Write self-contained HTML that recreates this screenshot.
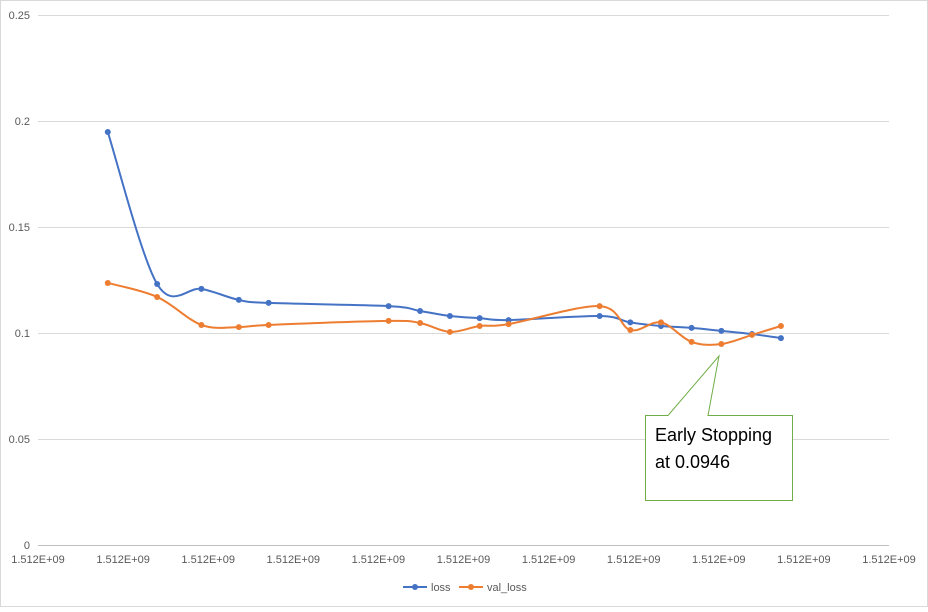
<!DOCTYPE html>
<html><head><meta charset="utf-8"><style>
body{margin:0;background:#fff;font-family:"Liberation Sans",sans-serif}
svg text{font-family:"Liberation Sans",sans-serif}
</style></head><body>
<svg id="chart" width="928" height="607" xmlns="http://www.w3.org/2000/svg">
<rect x="0.5" y="0.5" width="927" height="606" fill="#fff" stroke="#d9d9d9"/>
<g id="grid"></g><g id="series"></g>
<g>
<path d="M645.5,415.5 H668 L719,356 L708,415.5 H792.5 V500.5 H645.5 Z" fill="#fff" stroke="#70ad47" stroke-width="1"/>
<text x="655" y="441" font-size="18" fill="#000">Early Stopping</text>
<text x="655" y="468" font-size="18" fill="#000">at 0.0946</text>
</g>
<g>
<g><line x1="403" y1="587" x2="427" y2="587" stroke="#4472c4" stroke-width="2"/><circle cx="415" cy="587" r="3" fill="#4472c4"/><text x="431" y="591" font-size="11" fill="#595959">loss</text></g>
<g><line x1="459" y1="587" x2="483" y2="587" stroke="#ed7d31" stroke-width="2"/><circle cx="471" cy="587" r="3" fill="#ed7d31"/><text x="487" y="591" font-size="11" fill="#595959">val_loss</text></g>
</g>
</svg>
<script>
const xTimes=[82,140,192,236,271,412,449,484,519,553,660,696,732,768,803,839,873];
const lossValues=[0.1948,0.1231,0.1208,0.1156,0.1142,0.1127,0.1104,0.108,0.107,0.1061,0.108,0.105,0.1033,0.1024,0.101,0.0995,0.0976];
const valLossValues=[0.1236,0.117,0.1038,0.1028,0.1038,0.1057,0.1047,0.1005,0.1033,0.1042,0.1127,0.1014,0.105,0.0958,0.0948,0.0991,0.1033];
const yTicks=[0,0.05,0.1,0.15,0.2,0.25];
const yTickLabels=["0","0.05","0.1","0.15","0.2","0.25"];
const xTicks=[0,100,200,300,400,500,600,700,800,900,1000];
const xTickLabel="1.512E+09";
const NS="http://www.w3.org/2000/svg";
const X=t=>38+t*0.851, Y=v=>545-v*2120;
const grid=document.getElementById('grid'), ser=document.getElementById('series');
function mk(tag,at,p){const e=document.createElementNS(NS,tag);for(const k in at)e.setAttribute(k,at[k]);p.appendChild(e);return e;}
yTicks.forEach((v,i)=>{
 const l=mk('line',{x1:38,x2:889,y1:Y(v)+0.5,y2:Y(v)+0.5,stroke:v===0?'#bfbfbf':'#d9d9d9'},grid);
 
 
 const t=mk('text',{x:30,y:Y(v)+4,'text-anchor':'end','font-size':'11',fill:'#595959'},grid);
 t.textContent=yTickLabels[i];
 
 
});
xTicks.forEach(v=>{
 const t=mk('text',{x:X(v),y:563,'text-anchor':'middle','font-size':'11',fill:'#595959'},grid);
 t.textContent=xTickLabel;
 
 
});
function path(pts){let d=`M${pts[0][0]},${pts[0][1]}`;for(let i=0;i<pts.length-1;i++){const p0=pts[i-1]||pts[i],p1=pts[i],p2=pts[i+1],p3=pts[i+2]||p2;const k=1/6;d+=` C${p1[0]+(p2[0]-p0[0])*k},${p1[1]+(p2[1]-p0[1])*k} ${p2[0]-(p3[0]-p1[0])*k},${p2[1]-(p3[1]-p1[1])*k} ${p2[0]},${p2[1]}`;}return d;}
[[lossValues,'#4472c4','loss'],[valLossValues,'#ed7d31','val-loss']].forEach(([vals,c,n])=>{
 const pts=vals.map((v,i)=>[X(xTimes[i]),Y(v)]);
 const p=mk('path',{d:path(pts),fill:'none',stroke:c,'stroke-width':2},ser);
 
 
 pts.forEach(q=>{const m=mk('circle',{cx:q[0],cy:q[1],r:3,fill:c},ser);
  
  });
});
</script>
</body></html>
